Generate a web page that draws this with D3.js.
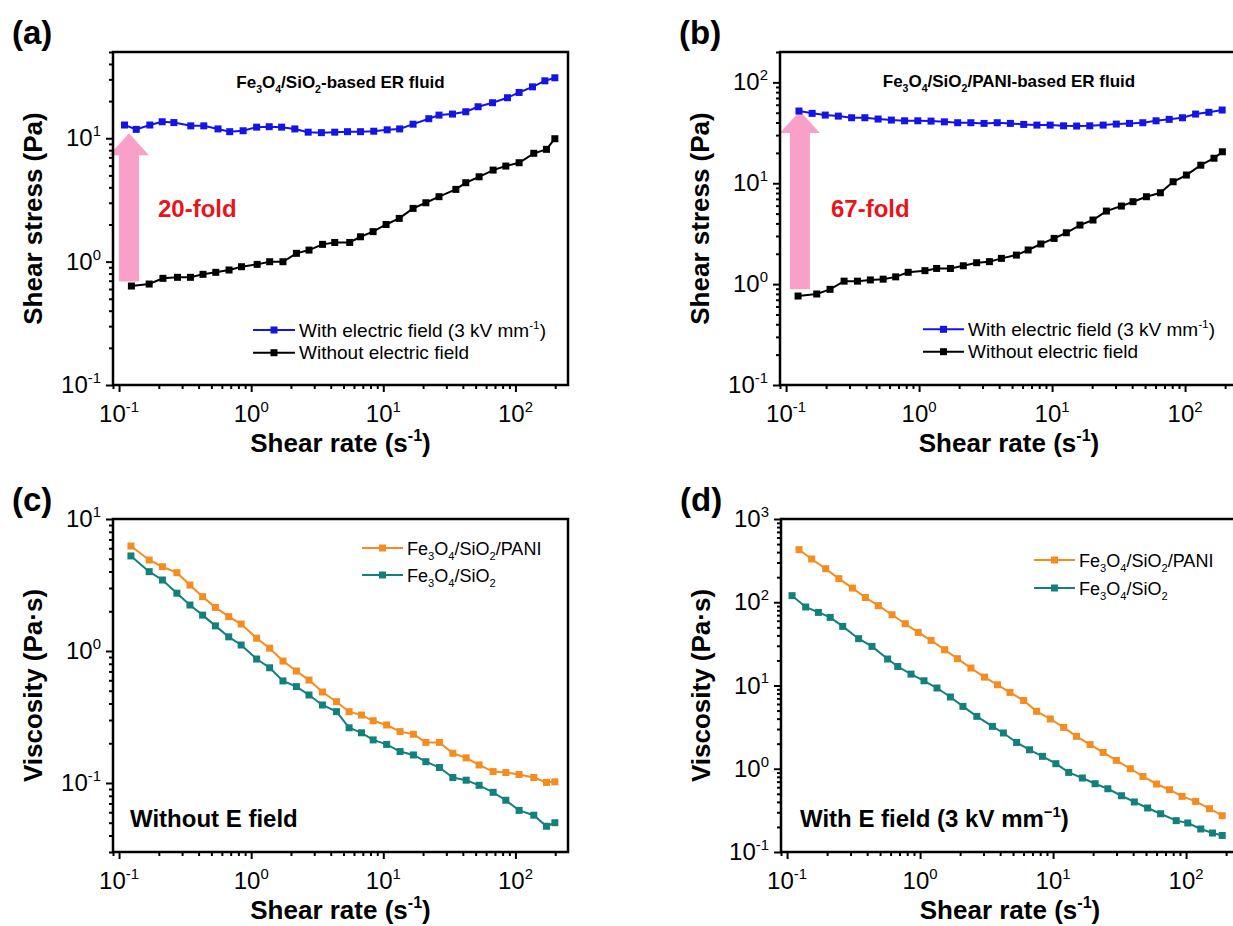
<!DOCTYPE html>
<html>
<head>
<meta charset="utf-8">
<script src="https://cdn.jsdelivr.net/npm/d3@7"></script>
<style>
  body { margin: 0; background: #fff; }
  svg { display: block; font-family: "Liberation Sans", Arial, sans-serif; }
</style>
</head>
<body>
<svg id="fig"></svg>
<script>
// (a) Fe3O4/SiO2 shear stress
const rateA_E = [0.110, 0.135, 0.171, 0.212, 0.260, 0.349, 0.438, 0.561, 0.688, 0.869, 1.10, 1.37, 1.70, 2.14, 2.70, 3.40, 4.29, 5.36, 6.72, 8.47, 10.7, 13.3, 16.8, 22.1, 26.4, 33.4, 42.1, 52.2, 67.1, 87.1, 106.6, 134.6, 167, 198.8];
const stressA_E = [12.8, 11.8, 12.8, 13.6, 13.4, 12.6, 12.6, 11.9, 11.3, 11.5, 12.3, 12.4, 12.3, 11.9, 11.2, 11.1, 11.2, 11.3, 11.3, 11.4, 11.7, 11.9, 13.0, 14.4, 15.4, 15.7, 16.4, 18.0, 19.4, 21.3, 23.5, 26.1, 29.2, 30.9];
const rateA_0 = [0.124, 0.169, 0.215, 0.277, 0.347, 0.432, 0.540, 0.680, 0.845, 1.11, 1.38, 1.74, 2.20, 2.74, 3.47, 4.29, 5.57, 6.72, 8.37, 10.5, 13.2, 16.8, 21.0, 26.4, 35.4, 42.1, 53.1, 67.8, 84.6, 106.6, 137.7, 171.8, 198.8];
const stressA_0 = [0.634, 0.658, 0.732, 0.746, 0.746, 0.789, 0.819, 0.855, 0.909, 0.950, 0.998, 0.998, 1.167, 1.24, 1.38, 1.43, 1.43, 1.59, 1.75, 2.00, 2.24, 2.70, 3.00, 3.36, 3.85, 4.36, 4.87, 5.52, 5.95, 6.33, 7.55, 8.13, 9.91];

// (b) Fe3O4/SiO2/PANI shear stress
const rateB_E = [0.125, 0.157, 0.197, 0.247, 0.311, 0.391, 0.492, 0.619, 0.778, 0.978, 1.23, 1.55, 1.95, 2.45, 3.08, 3.87, 4.86, 6.12, 7.69, 9.67, 12.2, 15.3, 19.2, 24.2, 30.4, 38.2, 48.1, 60.5, 76.0, 95.6, 120, 151, 190];
const stressB_E = [52.0, 49.3, 47.4, 46.3, 44.6, 44.6, 43.3, 42.3, 41.6, 41.6, 41.3, 40.6, 39.8, 39.8, 39.2, 39.8, 39.2, 38.3, 37.7, 37.7, 37.1, 36.9, 37.1, 37.7, 38.6, 39.2, 39.8, 41.6, 43.0, 44.6, 48.5, 50.5, 53.2];
const rateB_0 = [0.123, 0.170, 0.214, 0.273, 0.344, 0.430, 0.537, 0.667, 0.828, 1.107, 1.355, 1.72, 2.15, 2.71, 3.38, 4.16, 5.39, 6.61, 8.23, 10.36, 12.8, 16.2, 20.3, 25.6, 33.2, 40.6, 51.2, 65.2, 81.3, 102.3, 131.3, 165, 190.7];
const stressB_0 = [0.762, 0.798, 0.888, 1.07, 1.07, 1.10, 1.12, 1.18, 1.31, 1.36, 1.43, 1.43, 1.52, 1.63, 1.67, 1.80, 1.94, 2.18, 2.50, 2.84, 3.23, 3.85, 4.32, 5.30, 5.94, 6.56, 7.35, 8.05, 10.35, 12.06, 15.1, 17.7, 20.5];

// (c) viscosity without field
const rateC = [0.123, 0.169, 0.213, 0.274, 0.344, 0.429, 0.536, 0.676, 0.840, 1.10, 1.38, 1.74, 2.20, 2.74, 3.46, 4.42, 5.51, 6.84, 8.38, 10.6, 13.4, 16.9, 21.0, 26.6, 33.6, 42.4, 53.1, 67.8, 84.6, 106.6, 137.7, 171.8, 198.8];
const viscC_PANI = [6.24, 4.89, 4.35, 3.92, 3.16, 2.58, 2.14, 1.82, 1.60, 1.25, 1.05, 0.839, 0.705, 0.602, 0.489, 0.413, 0.347, 0.327, 0.296, 0.275, 0.245, 0.234, 0.203, 0.203, 0.168, 0.155, 0.137, 0.122, 0.120, 0.116, 0.110, 0.101, 0.102];
const viscC_SiO2 = [5.25, 3.99, 3.45, 2.74, 2.23, 1.87, 1.55, 1.28, 1.11, 0.869, 0.746, 0.593, 0.537, 0.464, 0.390, 0.347, 0.262, 0.240, 0.212, 0.196, 0.173, 0.163, 0.145, 0.131, 0.110, 0.105, 0.096, 0.085, 0.074, 0.062, 0.057, 0.047, 0.050];

// (d) viscosity with field
const rateD_PANI = [0.123, 0.153, 0.195, 0.245, 0.310, 0.388, 0.485, 0.615, 0.774, 0.968, 1.21, 1.53, 1.91, 2.41, 3.05, 3.82, 4.74, 6.01, 7.52, 9.53, 12.0, 15.0, 19.0, 23.8, 29.9, 38.1, 47.4, 60.0, 75.0, 93.3, 118, 150, 187];
const viscD_PANI = [428, 331, 253, 192, 148, 114, 90.9, 70.8, 55.2, 43.4, 34.8, 26.9, 21.0, 16.2, 12.6, 10.2, 8.26, 6.6, 4.89, 3.96, 3.14, 2.45, 1.95, 1.57, 1.26, 1.00, 0.809, 0.656, 0.560, 0.466, 0.405, 0.331, 0.273];
const rateD_SiO2 = [0.109, 0.138, 0.172, 0.211, 0.262, 0.345, 0.435, 0.570, 0.679, 0.855, 1.07, 1.34, 1.69, 2.10, 2.67, 3.50, 4.23, 5.32, 6.65, 8.32, 10.5, 13.1, 16.6, 20.7, 25.8, 32.7, 40.8, 51.4, 64.3, 84.3, 103, 129, 158, 187];
const viscD_SiO2 = [120, 87.7, 75.5, 65.8, 51.3, 36.5, 29.5, 20.8, 16.9, 13.7, 11.4, 9.33, 7.28, 5.61, 4.26, 3.23, 2.69, 2.07, 1.69, 1.41, 1.15, 0.904, 0.774, 0.661, 0.575, 0.474, 0.399, 0.338, 0.288, 0.238, 0.223, 0.189, 0.169, 0.158];

const xTicks = [-1, 0, 1, 2];
const yTicksA = [-1, 0, 1], yTicksB = [-1, 0, 1, 2], yTicksC = [-1, 0, 1], yTicksD = [-1, 0, 1, 2, 3];

const BLUE = '#1414e6', BLACK = '#000', ORANGE = '#f68b1f', TEAL = '#12807c', PINK = '#f8a0c8', RED = '#e8141b';
const FONT = '"Liberation Sans", Arial, sans-serif';

const svg = d3.select('#fig').attr('width', 1233).attr('height', 926);

const panels = [
  {
    label: '(a)', left: 113, top: 52, w: 455, h: 333,
    xDomain: [0.09, 250], yDomain: [0.1, 50], yTicks: yTicksA,
    yTitle: 'Shear stress (Pa)',
    series: [
      {x: rateA_0, y: stressA_0, color: BLACK, name: 'Without electric field'},
      {x: rateA_E, y: stressA_E, color: BLUE, name: 'With electric field (3 kV mm^{-1})'}
    ],
    legendOrder: [1, 0], legend: {x: 140, y: 278, gap: 22.7, len: 42, size: 19},
    note: 'Fe_{3}O_{4}/SiO_{2}-based ER fluid', noteY: 36,
    arrow: {x: 0.119, from: 0.69, to: 11.0}, fold: '20-fold', foldX: 45
  },
  {
    label: '(b)', left: 780, top: 52, w: 458, h: 333,
    xDomain: [0.09, 250], yDomain: [0.1, 200], yTicks: yTicksB,
    yTitle: 'Shear stress (Pa)',
    series: [
      {x: rateB_0, y: stressB_0, color: BLACK, name: 'Without electric field'},
      {x: rateB_E, y: stressB_E, color: BLUE, name: 'With electric field (3 kV mm^{-1})'}
    ],
    legendOrder: [1, 0], legend: {x: 143, y: 277.3, gap: 22.4, len: 41, size: 19},
    note: 'Fe_{3}O_{4}/SiO_{2}/PANI-based ER fluid', noteY: 35,
    arrow: {x: 0.127, from: 0.89, to: 52}, fold: '67-fold', foldX: 51
  },
  {
    label: '(c)', left: 113, top: 519, w: 455, h: 333,
    xDomain: [0.09, 250], yDomain: [0.03, 10], yTicks: yTicksC,
    yTitle: 'Viscosity (Pa·s)',
    series: [
      {x: rateC, y: viscC_SiO2, color: TEAL, name: 'Fe_{3}O_{4}/SiO_{2}'},
      {x: rateC, y: viscC_PANI, color: ORANGE, name: 'Fe_{3}O_{4}/SiO_{2}/PANI'}
    ],
    legendOrder: [1, 0], legend: {x: 249, y: 29, gap: 27, len: 41, size: 18},
    corner: 'Without E field', cornerX: 17
  },
  {
    label: '(d)', left: 781, top: 519, w: 458, h: 333,
    xDomain: [0.09, 250], yDomain: [0.1, 1000], yTicks: yTicksD,
    yTitle: 'Viscosity (Pa·s)',
    series: [
      {x: rateD_SiO2, y: viscD_SiO2, color: TEAL, name: 'Fe_{3}O_{4}/SiO_{2}'},
      {x: rateD_PANI, y: viscD_PANI, color: ORANGE, name: 'Fe_{3}O_{4}/SiO_{2}/PANI'}
    ],
    legendOrder: [1, 0], legend: {x: 253, y: 41, gap: 28, len: 41, size: 18},
    corner: 'With E field (3 kV mm^{−1})', cornerX: 19
  }
];

// writes "Fe_{3}O_{4}" / "mm^{-1}" style strings as tspans
function rich(text, str, size) {
  const parts = [];
  let last = 0;
  str.replace(/(_|\^)\{([^}]*)\}/g, (m, kind, inner, idx) => {
    if (idx > last) parts.push([str.slice(last, idx), null]);
    parts.push([inner, kind === '_' ? 'sub' : 'sup']);
    last = idx + m.length;
    return m;
  });
  if (last < str.length) parts.push([str.slice(last), null]);
  let shift = 0;
  parts.forEach(([s, kind]) => {
    const target = kind === 'sub' ? size * 0.3 : kind === 'sup' ? -size * 0.42 : 0;
    text.append('tspan')
      .attr('dy', target - shift)
      .attr('font-size', kind ? size * 0.62 : size)
      .text(s);
    shift = target;
  });
  return text;
}

function minorTicks(domain) {
  const out = [];
  const lo = Math.floor(Math.log10(domain[0])), hi = Math.ceil(Math.log10(domain[1]));
  for (let e = lo; e <= hi; e++) {
    for (let m = 2; m <= 9; m++) {
      const v = m * Math.pow(10, e);
      if (v >= domain[0] && v <= domain[1]) out.push(v);
    }
  }
  return out;
}

panels.forEach(p => {
  const x = d3.scaleLog().domain(p.xDomain).range([p.left, p.left + p.w]);
  const y = d3.scaleLog().domain(p.yDomain).range([p.top + p.h, p.top]);
  const g = svg.append('g');
  const bottom = p.top + p.h;

  // pink arrow behind the data
  if (p.arrow) {
    const cx = x(p.arrow.x), yt = y(p.arrow.to), yb = y(p.arrow.from);
    const sw = 10, hw = 20, hh = 22;
    g.append('path')
      .attr('d', `M${cx - sw},${yb}L${cx - sw},${yt + hh}L${cx - hw},${yt + hh}L${cx},${yt}L${cx + hw},${yt + hh}L${cx + sw},${yt + hh}L${cx + sw},${yb}Z`)
      .attr('fill', PINK);
    g.append('text')
      .attr('x', p.left + p.foldX).attr('y', p.top + 165)
      .attr('font-size', 24).attr('font-weight', 'bold').attr('fill', RED)
      .text(p.fold);
  }

  // axes: minor + major ticks outward, frame on all sides
  const xMinor = d3.axisBottom(x).tickValues(minorTicks(p.xDomain)).tickSize(4).tickFormat('');
  const xMajor = d3.axisBottom(x).tickValues(xTicks.map(e => Math.pow(10, e))).tickSize(7).tickFormat('');
  const yMinor = d3.axisLeft(y).tickValues(minorTicks(p.yDomain)).tickSize(4).tickFormat('');
  const yMajor = d3.axisLeft(y).tickValues(p.yTicks.map(e => Math.pow(10, e))).tickSize(7).tickFormat('');
  [xMinor, xMajor].forEach(a => g.append('g').attr('transform', `translate(0,${bottom})`).call(a));
  [yMinor, yMajor].forEach(a => g.append('g').attr('transform', `translate(${p.left},0)`).call(a));
  g.selectAll('.domain').remove();
  g.selectAll('.tick line').attr('stroke', '#000').attr('stroke-width', 2);

  g.append('rect')
    .attr('x', p.left).attr('y', p.top).attr('width', p.w).attr('height', p.h)
    .attr('fill', 'none').attr('stroke', '#000').attr('stroke-width', 2.5);

  // tick labels 10^n
  xTicks.forEach(e => {
    rich(g.append('text').attr('x', x(Math.pow(10, e))).attr('y', bottom + 37)
      .attr('text-anchor', 'middle').attr('font-family', FONT), `10^{${e}}`, 24);
  });
  p.yTicks.forEach(e => {
    rich(g.append('text').attr('x', p.left - 12).attr('y', y(Math.pow(10, e)) + 8)
      .attr('text-anchor', 'end').attr('font-family', FONT), `10^{${e}}`, 24);
  });

  // axis titles
  rich(g.append('text').attr('x', p.left + p.w / 2).attr('y', bottom + 67)
    .attr('text-anchor', 'middle').attr('font-weight', 'bold'), 'Shear rate (s^{-1})', 26);
  g.append('text')
    .attr('transform', `translate(${p.left - 71},${p.top + p.h / 2}) rotate(-90)`)
    .attr('text-anchor', 'middle').attr('font-weight', 'bold').attr('font-size', 26)
    .text(p.yTitle);

  // panel label
  g.append('text').attr('x', p.left - 101).attr('y', p.top - 8)
    .attr('font-size', 33).attr('font-weight', 'bold').text(p.label);

  // data
  const line = d3.line().x(d => x(d[0])).y(d => y(d[1]));
  p.series.forEach(s => {
    const pts = s.x.map((v, i) => [v, s.y[i]]);
    g.append('path').datum(pts).attr('d', line)
      .attr('fill', 'none').attr('stroke', s.color).attr('stroke-width', 2);
    g.selectAll(null).data(pts).enter().append('rect')
      .attr('x', d => x(d[0]) - 3.5).attr('y', d => y(d[1]) - 3.5)
      .attr('width', 7).attr('height', 7).attr('fill', s.color);
  });

  // legend
  const L = p.legend;
  p.legendOrder.forEach((si, row) => {
    const s = p.series[si];
    const ly = p.top + L.y + row * L.gap;
    const lx = p.left + L.x;
    g.append('line').attr('x1', lx).attr('x2', lx + L.len).attr('y1', ly).attr('y2', ly)
      .attr('stroke', s.color).attr('stroke-width', 2);
    g.append('rect').attr('x', lx + L.len / 2 - 3.5).attr('y', ly - 3.5)
      .attr('width', 7).attr('height', 7).attr('fill', s.color);
    rich(g.append('text').attr('x', lx + L.len + 4).attr('y', ly + 6.5), s.name, L.size);
  });

  if (p.note) {
    rich(g.append('text').attr('x', p.left + p.w / 2).attr('y', p.top + p.noteY)
      .attr('text-anchor', 'middle').attr('font-weight', 'bold'), p.note, 17);
  }
  if (p.corner) {
    rich(g.append('text').attr('x', p.left + p.cornerX).attr('y', p.top + 308)
      .attr('font-weight', 'bold'), p.corner, 24);
  }
});
</script>
</body>
</html>
